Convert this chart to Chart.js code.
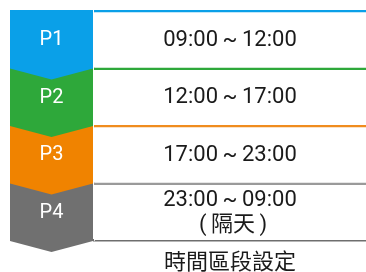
<!DOCTYPE html>
<html>
<head>
<meta charset="utf-8">
<script src="https://cdn.jsdelivr.net/npm/chart.js@4/dist/chart.umd.min.js"></script>
<style>
  body { margin: 0; background: #fff; }
</style>
</head>
<body>
<canvas id="periods" width="366" height="272"></canvas>
<script>
// Time-of-use periods
const periods = ['P1', 'P2', 'P3', 'P4'];
const startTimes = ['09:00', '12:00', '17:00', '23:00'];
const endTimes = ['12:00', '17:00', '23:00', '09:00'];
const notes = ['', '', '', '(\u2009隔天\u2009)'];
const rowSpan = [1, 1, 1, 1]; // each row fills the whole width
const axisTitle = '時間區段設定';

const periodColors = ['#0aa0e8', '#2ea83a', '#f08300', '#707070'];
const lineColors = ['#0aa0e8', '#2ea83a', '#f08c1e', '#9a9a9a'];
const FONT = "Roboto, 'Noto Sans CJK TC', sans-serif";

// Chevron blocks on the left + time text in each row
const periodPlugin = {
    id: 'periodPlugin',
    afterDraw(chart) {
        const ctx = chart.ctx;
        const yScale = chart.scales.y;
        const area = chart.chartArea;
        const band = (yScale.bottom - yScale.top) / periods.length;
        const left = yScale.left;
        const right = yScale.right - 1;
        const mid = (left + right) / 2;
        const tip = 11;

        ctx.save();
        // draw bottom row first so upper tips overlap lower blocks
        for (let i = periods.length - 1; i >= 0; i--) {
            const cy = yScale.getPixelForValue(i);
            const top = cy - band / 2;
            const bottom = cy + band / 2 + 1;
            ctx.fillStyle = periodColors[i];
            ctx.beginPath();
            ctx.moveTo(left, top);
            ctx.lineTo(right, top);
            ctx.lineTo(right, bottom);
            ctx.lineTo(mid, bottom + tip);
            ctx.lineTo(left, bottom);
            ctx.closePath();
            ctx.fill();
        }

        ctx.textAlign = 'center';
        ctx.textBaseline = 'middle';
        const cx = (area.left + area.right) / 2;
        periods.forEach((p, i) => {
            const cy = yScale.getPixelForValue(i) + 1.5;
            ctx.fillStyle = '#ffffff';
            ctx.font = '20px ' + FONT;
            ctx.fillText(p, mid, cy);

            ctx.fillStyle = '#1a1a1a';
            ctx.font = '22px ' + FONT;
            const range = startTimes[i] + '\u2009~\u2009' + endTimes[i];
            if (notes[i]) {
                ctx.fillText(range, cx, cy - 12.5);
                ctx.fillText(notes[i], cx + 3, cy + 12.5);
            } else {
                ctx.fillText(range, cx, cy);
            }
        });
        ctx.restore();
    }
};

new Chart(document.getElementById('periods'), {
    type: 'bar',
    data: {
        labels: periods,
        datasets: [{
            data: rowSpan,
            backgroundColor: '#ffffff',
            borderColor: lineColors,
            borderWidth: { top: 2.5, right: 0, bottom: 0, left: 0 },
            borderSkipped: false,
            inflateAmount: 0,
            barPercentage: 1,
            categoryPercentage: 1
        }]
    },
    options: {
        indexAxis: 'y',
        responsive: false,
        animation: false,
        layout: { padding: { top: 10, left: 10, right: -6, bottom: 0 } },
        plugins: {
            legend: { display: false },
            tooltip: { enabled: false }
        },
        scales: {
            x: {
                min: 0,
                max: 1,
                grid: { display: false, drawTicks: false },
                ticks: { display: false },
                border: { display: true, color: '#6e6e6e', width: 2.5 },
                title: {
                    display: true,
                    text: axisTitle,
                    color: '#1a1a1a',
                    font: { family: FONT, size: 22, lineHeight: 1 },
                    padding: { top: 12, bottom: -2 }
                }
            },
            y: {
                grid: { display: false, drawTicks: false },
                ticks: { display: false },
                border: { display: true, color: '#dcdcdc', width: 1 },
                afterFit(scale) { scale.width = 84; }
            }
        }
    },
    plugins: [periodPlugin]
});
</script>
</body>
</html>
